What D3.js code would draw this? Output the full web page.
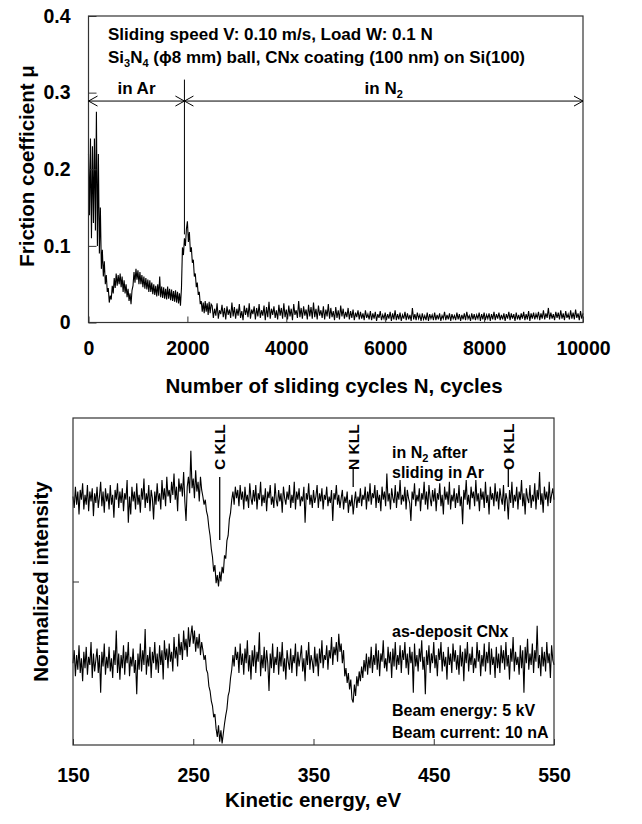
<!DOCTYPE html>
<html><head><meta charset="utf-8">
<script src="https://cdn.jsdelivr.net/npm/d3@7"></script>
<style>
body{margin:0;background:#fff}
text{font-family:Arial,"Liberation Sans",sans-serif;font-weight:bold;fill:#000}
</style>
</head><body><svg id="c" width="642" height="824"></svg>
<script>
// ---------- DATA: friction test ----------
const frictionTicks = [0, 0.1, 0.2, 0.3, 0.4];
const cycleTicks = [0, 2000, 4000, 6000, 8000, 10000];
const muEarlyStart = 0, muEarlyStep = 20;          // cycles 0..2480
const muEarly = [
0.22,0.14,0.24,0.11,0.23,0.13,0.24,0.12,0.275,0.10,
0.22,0.09,0.15,0.07,0.095,0.06,0.08,0.05,0.062,0.04,
0.045,0.026,0.035,0.03,0.048,0.038,0.058,0.045,0.064,0.048,
0.062,0.05,0.064,0.046,0.06,0.04,0.055,0.038,0.05,0.033,
0.044,0.028,0.038,0.024,0.042,0.048,0.066,0.052,0.07,0.056,
0.068,0.05,0.066,0.05,0.062,0.046,0.06,0.044,0.058,0.043,
0.056,0.04,0.055,0.04,0.052,0.037,0.05,0.036,0.048,0.034,
0.05,0.035,0.06,0.033,0.047,0.032,0.046,0.031,0.044,0.03,
0.047,0.031,0.044,0.029,0.043,0.028,0.041,0.027,0.042,0.026,
0.04,0.025,0.038,0.022,0.045,0.098,0.088,0.11,0.10,0.122,
0.132,0.105,0.118,0.092,0.098,0.078,0.082,0.06,0.064,0.046,
0.052,0.036,0.04,0.024,0.028,0.014,0.026,0.012,0.028,0.014,
0.025,0.01,0.027,0.012,0.024
];
const muLateStart = 2500, muLateStep = 25;         // cycles 2500..10000
const muLate = [
0.022,0.006,0.018,0.009,0.025,0.005,0.016,0.011,0.023,0.007,
0.019,0.004,0.021,0.01,0.017,0.006,0.026,0.008,0.02,0.005,
0.018,0.009,0.024,0.006,0.015,0.003,0.022,0.01,0.019,0.007,
0.025,0.005,0.017,0.011,0.021,0.004,0.019,0.008,0.024,0.006,
0.016,0.009,0.022,0.003,0.02,0.007,0.027,0.005,0.018,0.01,
0.021,0.006,0.016,0.004,0.023,0.009,0.019,0.005,0.025,0.007,
0.017,0.004,0.022,0.008,0.018,0.003,0.024,0.01,0.016,0.006,
0.028,0.007,0.019,0.005,0.021,0.009,0.017,0.004,0.023,0.008,
0.02,0.005,0.026,0.007,0.018,0.004,0.022,0.009,0.016,0.006,
0.021,0.004,0.017,0.008,0.024,0.005,0.019,0.007,0.015,0.003,
0.02,0.006,0.016,0.004,0.022,0.008,0.018,0.005,0.014,0.007,
0.019,0.004,0.015,0.006,0.017,0.003,0.013,0.007,0.016,0.004,
0.014,0.005,0.012,0.003,0.016,0.006,0.011,0.004,0.015,0.003,
0.012,0.005,0.014,0.002,0.011,0.006,0.015,0.003,0.01,0.005,
0.013,0.003,0.011,0.005,0.014,0.002,0.012,0.004,0.016,0.003,
0.011,0.004,0.013,0.002,0.01,0.005,0.014,0.003,0.012,0.004,
0.01,0.002,0.019,0.004,0.011,0.003,0.013,0.005,0.01,0.002,
0.012,0.004,0.009,0.003,0.013,0.002,0.011,0.005,0.01,0.003,
0.013,0.003,0.01,0.004,0.012,0.002,0.009,0.005,0.014,0.003,
0.01,0.004,0.012,0.002,0.011,0.005,0.009,0.003,0.013,0.004,
0.011,0.002,0.01,0.004,0.012,0.003,0.014,0.005,0.009,0.002,
0.012,0.004,0.011,0.003,0.01,0.005,0.013,0.002,0.011,0.004,
0.013,0.003,0.01,0.005,0.012,0.002,0.011,0.004,0.014,0.003,
0.011,0.005,0.013,0.003,0.01,0.004,0.012,0.002,0.011,0.005,
0.014,0.003,0.012,0.005,0.011,0.002,0.013,0.004,0.01,0.003,
0.012,0.005,0.014,0.003,0.011,0.004,0.015,0.002,0.012,0.005,
0.013,0.004,0.011,0.006,0.014,0.003,0.012,0.005,0.016,0.004,
0.012,0.006,0.019,0.004,0.013,0.005,0.011,0.003,0.014,0.006,
0.013,0.004,0.016,0.005,0.012,0.003,0.015,0.006,0.011,0.004,
0.016,0.005,0.013,0.004,0.017,0.006,0.012,0.003,0.015,0.005,
0.012
];
const gasSwitchCycle = 1940;
const arrowMu = 0.289;
const dividerMu = [0.115, 0.317];

// ---------- DATA: Auger spectra ----------
const energyTicks = [150, 250, 350, 450, 550];
const energyStart = 150, energyStep = 1;           // eV 150..550
const spectrumAfterSliding = [
1.52,1.45,1.58,1.47,1.55,1.41,1.56,1.50,1.60,1.44,
1.53,1.47,1.59,1.43,1.55,1.49,1.57,1.40,1.54,1.48,
1.58,1.45,1.52,1.61,1.46,1.55,1.42,1.57,1.49,1.54,
1.44,1.59,1.47,1.53,1.39,1.56,1.50,1.60,1.45,1.55,
1.48,1.57,1.43,1.54,1.50,1.62,1.36,1.52,1.41,1.58,
1.49,1.55,1.44,1.60,1.47,1.53,1.42,1.57,1.50,1.63,
1.45,1.54,1.48,1.59,1.43,1.56,1.51,1.38,1.55,1.47,
1.60,1.49,1.54,1.44,1.62,1.50,1.57,1.46,1.64,1.52,
1.56,1.48,1.61,1.53,1.66,1.50,1.58,1.43,1.63,1.55,
1.60,1.52,1.67,1.49,1.37,1.58,1.64,1.54,1.80,1.57,
1.63,1.51,1.68,1.55,1.61,1.49,1.64,1.56,1.52,1.47,
1.50,1.43,1.40,1.33,1.28,1.20,1.15,1.06,1.10,0.99,
1.04,0.97,1.06,1.00,1.09,1.05,1.16,1.14,1.25,1.28,
1.38,1.42,1.50,1.55,1.47,1.58,1.51,1.56,1.46,1.59,
1.50,1.55,1.44,1.58,1.49,1.53,1.45,1.60,1.51,1.47,
1.56,1.49,1.59,1.44,1.54,1.50,1.61,1.46,1.53,1.48,
1.57,1.43,1.55,1.51,1.59,1.47,1.52,1.45,1.60,1.50,
1.46,1.56,1.49,1.54,1.42,1.58,1.51,1.47,1.55,1.50,
1.59,1.45,1.53,1.48,1.61,1.44,1.55,1.50,1.57,1.46,
1.52,1.49,1.58,1.36,1.54,1.50,1.60,1.47,1.53,1.45,
1.56,1.48,1.52,1.59,1.45,1.54,1.49,1.57,1.44,1.53,
1.50,1.58,1.46,1.52,1.48,1.56,1.37,1.54,1.50,1.59,
1.47,1.53,1.45,1.51,1.56,1.44,1.52,1.48,1.55,1.42,
1.50,1.46,1.53,1.41,1.49,1.55,1.45,1.52,1.48,1.57,
1.46,1.53,1.50,1.58,1.44,1.55,1.49,1.60,1.47,1.54,
1.51,1.59,1.45,1.56,1.48,1.53,1.43,1.58,1.50,1.55,
1.46,1.66,1.49,1.54,1.44,1.57,1.51,1.48,1.59,1.45,
1.55,1.50,1.62,1.47,1.53,1.49,1.58,1.44,1.56,1.51,
1.48,1.37,1.55,1.50,1.60,1.46,1.53,1.49,1.57,1.43,
1.54,1.50,1.61,1.47,1.55,1.44,1.59,1.51,1.46,1.56,
1.49,1.57,1.43,1.54,1.50,1.60,1.46,1.53,1.41,1.58,
1.50,1.55,1.47,1.61,1.44,1.53,1.49,1.57,1.45,1.54,
1.48,1.59,1.46,1.52,1.35,1.56,1.50,1.62,1.47,1.53,
1.44,1.58,1.51,1.55,1.46,1.62,1.49,1.54,1.43,1.57,
1.50,1.55,1.45,1.61,1.48,1.53,1.41,1.58,1.50,1.54,
1.46,1.60,1.49,1.55,1.44,1.57,1.51,1.47,1.59,1.43,
1.54,1.50,1.38,1.56,1.48,1.61,1.45,1.53,1.49,1.58,
1.44,1.55,1.50,1.62,1.46,1.54,1.41,1.57,1.51,1.48,
1.59,1.45,1.53,1.49,1.60,1.44,1.56,1.50,1.67,1.47,
1.54,1.42,1.58,1.50,1.55,1.46,1.61,1.48,1.53,1.57,
1.50
];
const spectrumAsDeposit = [
0.50,0.58,0.42,0.55,0.46,0.61,0.44,0.53,0.39,0.57,
0.47,0.60,0.43,0.54,0.49,0.63,0.41,0.56,0.45,0.52,
0.59,0.44,0.55,0.32,0.57,0.48,0.62,0.43,0.54,0.47,
0.60,0.45,0.53,0.41,0.58,0.49,0.70,0.44,0.56,0.40,
0.55,0.47,0.61,0.43,0.57,0.50,0.63,0.42,0.54,0.48,
0.59,0.44,0.52,0.31,0.56,0.46,0.62,0.45,0.58,0.49,
0.71,0.43,0.55,0.48,0.60,0.41,0.57,0.50,0.63,0.46,
0.56,0.44,0.61,0.49,0.58,0.40,0.64,0.52,0.59,0.47,
0.62,0.51,0.57,0.45,0.66,0.53,0.60,0.48,0.68,0.55,
0.63,0.52,0.70,0.58,0.65,0.54,0.72,0.60,0.67,0.73,
0.62,0.70,0.57,0.66,0.59,0.68,0.55,0.63,0.58,0.52,
0.55,0.46,0.44,0.36,0.33,0.27,0.24,0.17,0.19,0.10,
0.05,0.12,0.02,0.09,0.01,0.07,0.13,0.18,0.22,0.30,
0.33,0.41,0.46,0.55,0.48,0.60,0.52,0.57,0.44,0.62,
0.49,0.56,0.43,0.59,0.50,0.64,0.45,0.55,0.40,0.58,
0.48,0.61,0.44,0.57,0.51,0.69,0.42,0.55,0.47,0.60,
0.45,0.58,0.50,0.33,0.56,0.47,0.62,0.44,0.54,0.49,
0.60,0.43,0.57,0.48,0.63,0.45,0.53,0.40,0.58,0.51,
0.46,0.59,0.44,0.55,0.50,0.62,0.42,0.57,0.48,0.54,
0.61,0.45,0.53,0.39,0.58,0.49,0.63,0.46,0.55,0.51,
0.44,0.60,0.48,0.56,0.42,0.59,0.50,0.64,0.47,0.55,
0.52,0.61,0.46,0.58,0.53,0.66,0.49,0.60,0.55,0.63,
0.51,0.68,0.57,0.62,0.50,0.58,0.42,0.47,0.38,0.44,
0.34,0.40,0.28,0.26,0.37,0.30,0.42,0.36,0.45,0.39,
0.48,0.41,0.52,0.45,0.56,0.43,0.54,0.47,0.60,0.44,
0.55,0.49,0.62,0.46,0.58,0.42,0.56,0.51,0.64,0.47,
0.53,0.45,0.60,0.50,0.57,0.41,0.59,0.48,0.63,0.46,
0.55,0.49,0.61,0.44,0.58,0.52,0.63,0.47,0.56,0.43,
0.60,0.50,0.57,0.32,0.62,0.48,0.55,0.45,0.59,0.51,
0.64,0.46,0.54,0.31,0.58,0.49,0.61,0.44,0.56,0.50,
0.63,0.47,0.55,0.42,0.59,0.52,0.63,0.45,0.57,0.48,
0.54,0.40,0.60,0.49,0.56,0.44,0.62,0.51,0.58,0.46,
0.55,0.43,0.61,0.48,0.57,0.39,0.59,0.50,0.63,0.45,
0.56,0.49,0.60,0.44,0.53,0.47,0.63,0.51,0.58,0.42,
0.55,0.48,0.62,0.45,0.57,0.50,0.63,0.43,0.59,0.49,
0.54,0.41,0.60,0.47,0.56,0.44,0.61,0.50,0.58,0.46,
0.63,0.48,0.55,0.40,0.59,0.51,0.66,0.45,0.57,0.49,
0.54,0.43,0.61,0.47,0.58,0.32,0.60,0.50,0.65,0.46,
0.56,0.49,0.62,0.44,0.58,0.51,0.73,0.47,0.55,0.42,
0.60,0.48,0.57,0.45,0.63,0.50,0.56,0.41,0.61,0.52,
0.49
];
const peakNames = ["C KLL", "N KLL", "O KLL"];
const peakEnergies = [272, 383, 512];

// ---------- DRAW ----------
const svg = d3.select("#c");
const frameColor = "#333";

// ===== Top chart =====
const x1 = d3.scaleLinear().domain([0, 10000]).range([88.5, 583]);
const y1 = d3.scaleLinear().domain([0, 0.4]).range([322.5, 16]);
const gTop = svg.append("g");

const fric = muEarly.map((v, i) => [muEarlyStart + i * muEarlyStep, v])
  .concat(muLate.map((v, i) => [muLateStart + i * muLateStep, v]));

gTop.append("path").datum(fric)
  .attr("fill", "none").attr("stroke", "#000").attr("stroke-width", 1.1)
  .attr("d", d3.line().x(d => x1(d[0])).y(d => y1(d[1])));

gTop.append("rect")
  .attr("x", x1(0)).attr("y", y1(0.4))
  .attr("width", x1(10000) - x1(0)).attr("height", y1(0) - y1(0.4))
  .attr("fill", "none").attr("stroke", frameColor).attr("stroke-width", 1.2);

const yAx1 = gTop.append("g").attr("transform", `translate(${x1(0)},0)`)
  .call(d3.axisLeft(y1).tickValues(frictionTicks).tickSizeInner(-8).tickSizeOuter(0)
    .tickPadding(18).tickFormat(d => d === 0 ? "0" : d3.format(".1f")(d)));
yAx1.select(".domain").remove();
yAx1.selectAll("line").attr("stroke", frameColor);
yAx1.selectAll("text").style("font-size", "19.5px").attr("fill", "#000").attr("font-family", null);

const xAx1 = gTop.append("g").attr("transform", `translate(0,${y1(0)})`)
  .call(d3.axisBottom(x1).tickValues(cycleTicks).tickSizeInner(-6).tickSizeOuter(0)
    .tickPadding(19).tickFormat(d3.format("d")));
xAx1.select(".domain").remove();
xAx1.selectAll("line").attr("stroke", frameColor);
xAx1.selectAll("text").style("font-size", "19.5px").attr("fill", "#000").attr("font-family", null);

gTop.append("text").attr("x", 334).attr("y", 393)
  .attr("text-anchor", "middle").style("font-size", "20.5px")
  .text("Number of sliding cycles N, cycles");

gTop.append("text").attr("transform", `translate(34,166) rotate(-90)`)
  .attr("text-anchor", "middle").style("font-size", "20.5px")
  .text("Friction coefficient μ");

// conditions text
const t1 = gTop.append("text").attr("x", 108).attr("y", 40).style("font-size", "17px");
t1.text("Sliding speed V: 0.10 m/s, Load W: 0.1 N");
const t2 = gTop.append("text").attr("x", 108).attr("y", 63).style("font-size", "17px");
t2.append("tspan").text("Si");
t2.append("tspan").attr("dy", 4).style("font-size", "11px").text("3");
t2.append("tspan").attr("dy", -4).text("N");
t2.append("tspan").attr("dy", 4).style("font-size", "11px").text("4");
t2.append("tspan").attr("dy", -4).text(" (ϕ8 mm) ball, CNx coating (100 nm) on Si(100)");

// gas arrows
const ay = y1(arrowMu), xs = x1(gasSwitchCycle), xL = x1(0), xR = x1(10000);
const ah = 9, aw = 5;
const lineStyle = s => s.attr("stroke", "#000").attr("stroke-width", 1).attr("fill", "none");
gTop.append("line").attr("x1", xL).attr("x2", xR).attr("y1", ay).attr("y2", ay).call(lineStyle);
gTop.append("line").attr("x1", xs).attr("x2", xs).attr("y1", y1(dividerMu[1])).attr("y2", y1(dividerMu[0])).call(lineStyle);
const heads = [[xL, 1], [xs, -1], [xs, 1], [xR, -1]];
heads.forEach(([hx, dir]) => {
  gTop.append("path").attr("d", `M${hx + dir * ah},${ay - aw} L${hx},${ay} L${hx + dir * ah},${ay + aw}`).call(lineStyle);
});
gTop.append("text").attr("x", (xL + xs) / 2).attr("y", 94).attr("text-anchor", "middle")
  .style("font-size", "17px").text("in Ar");
const tN = gTop.append("text").attr("x", (xs + xR) / 2).attr("y", 94).attr("text-anchor", "middle")
  .style("font-size", "17px");
tN.append("tspan").text("in N");
tN.append("tspan").attr("dy", 4).style("font-size", "11px").text("2");

// ===== Bottom chart =====
const x2 = d3.scaleLinear().domain([150, 550]).range([73, 554]);
const y2 = d3.scaleLinear().domain([0, 2]).range([745, 418]);
const gBot = svg.append("g");

const spLine = d3.line().x((d, i) => x2(energyStart + i * energyStep)).y(d => y2(d));
[spectrumAfterSliding, spectrumAsDeposit].forEach(s => {
  gBot.append("path").datum(s).attr("fill", "none").attr("stroke", "#000")
    .attr("stroke-width", 1.1).attr("d", spLine);
});

gBot.append("rect")
  .attr("x", x2(150)).attr("y", y2(2))
  .attr("width", x2(550) - x2(150)).attr("height", y2(0) - y2(2))
  .attr("fill", "none").attr("stroke", frameColor).attr("stroke-width", 1.2);

const yAx2 = gBot.append("g").attr("transform", `translate(${x2(150)},0)`)
  .call(d3.axisLeft(y2).tickValues([1]).tickSizeInner(-6).tickSizeOuter(0).tickFormat(""));
yAx2.select(".domain").remove();
yAx2.selectAll("line").attr("stroke", frameColor);

const xAx2 = gBot.append("g").attr("transform", `translate(0,${y2(0)})`)
  .call(d3.axisBottom(x2).tickValues(energyTicks).tickSizeInner(-6).tickSizeOuter(0)
    .tickPadding(23).tickFormat(d3.format("d")));
xAx2.select(".domain").remove();
xAx2.selectAll("line").attr("stroke", frameColor);
xAx2.selectAll("text").style("font-size", "19.5px").attr("fill", "#000").attr("font-family", null);

gBot.append("text").attr("x", 313).attr("y", 807).attr("text-anchor", "middle")
  .style("font-size", "20.5px").text("Kinetic energy, eV");
gBot.append("text").attr("transform", `translate(48,${y2(1)}) rotate(-90)`)
  .attr("text-anchor", "middle").style("font-size", "20.5px").text("Normalized intensity");

// peak markers
const peakLineEnd = [540, 487, 487];
const peakLineStart = [477, 469, 469];
peakNames.forEach((name, i) => {
  const px = x2(peakEnergies[i]);
  gBot.append("text").attr("transform", `translate(${px + 5.5},${470}) rotate(-90)`)
    .attr("text-anchor", "start").style("font-size", "15.5px").text(name);
  gBot.append("line").attr("x1", px).attr("x2", px)
    .attr("y1", peakLineStart[i]).attr("y2", peakLineEnd[i])
    .attr("stroke", "#000").attr("stroke-width", 1.3);
});

const l1 = gBot.append("text").attr("x", 392).attr("y", 458).style("font-size", "16px");
l1.append("tspan").text("in N");
l1.append("tspan").attr("dy", 4).style("font-size", "11px").text("2");
l1.append("tspan").attr("dy", -4).text(" after");
gBot.append("text").attr("x", 392).attr("y", 478).style("font-size", "16px").text("sliding in Ar");
gBot.append("text").attr("x", 392).attr("y", 637).style("font-size", "16px").text("as-deposit CNx");
gBot.append("text").attr("x", 392).attr("y", 716).style("font-size", "16px").text("Beam energy: 5 kV");
gBot.append("text").attr("x", 392).attr("y", 738).style("font-size", "16px").text("Beam current: 10 nA");
</script>
</body></html>
